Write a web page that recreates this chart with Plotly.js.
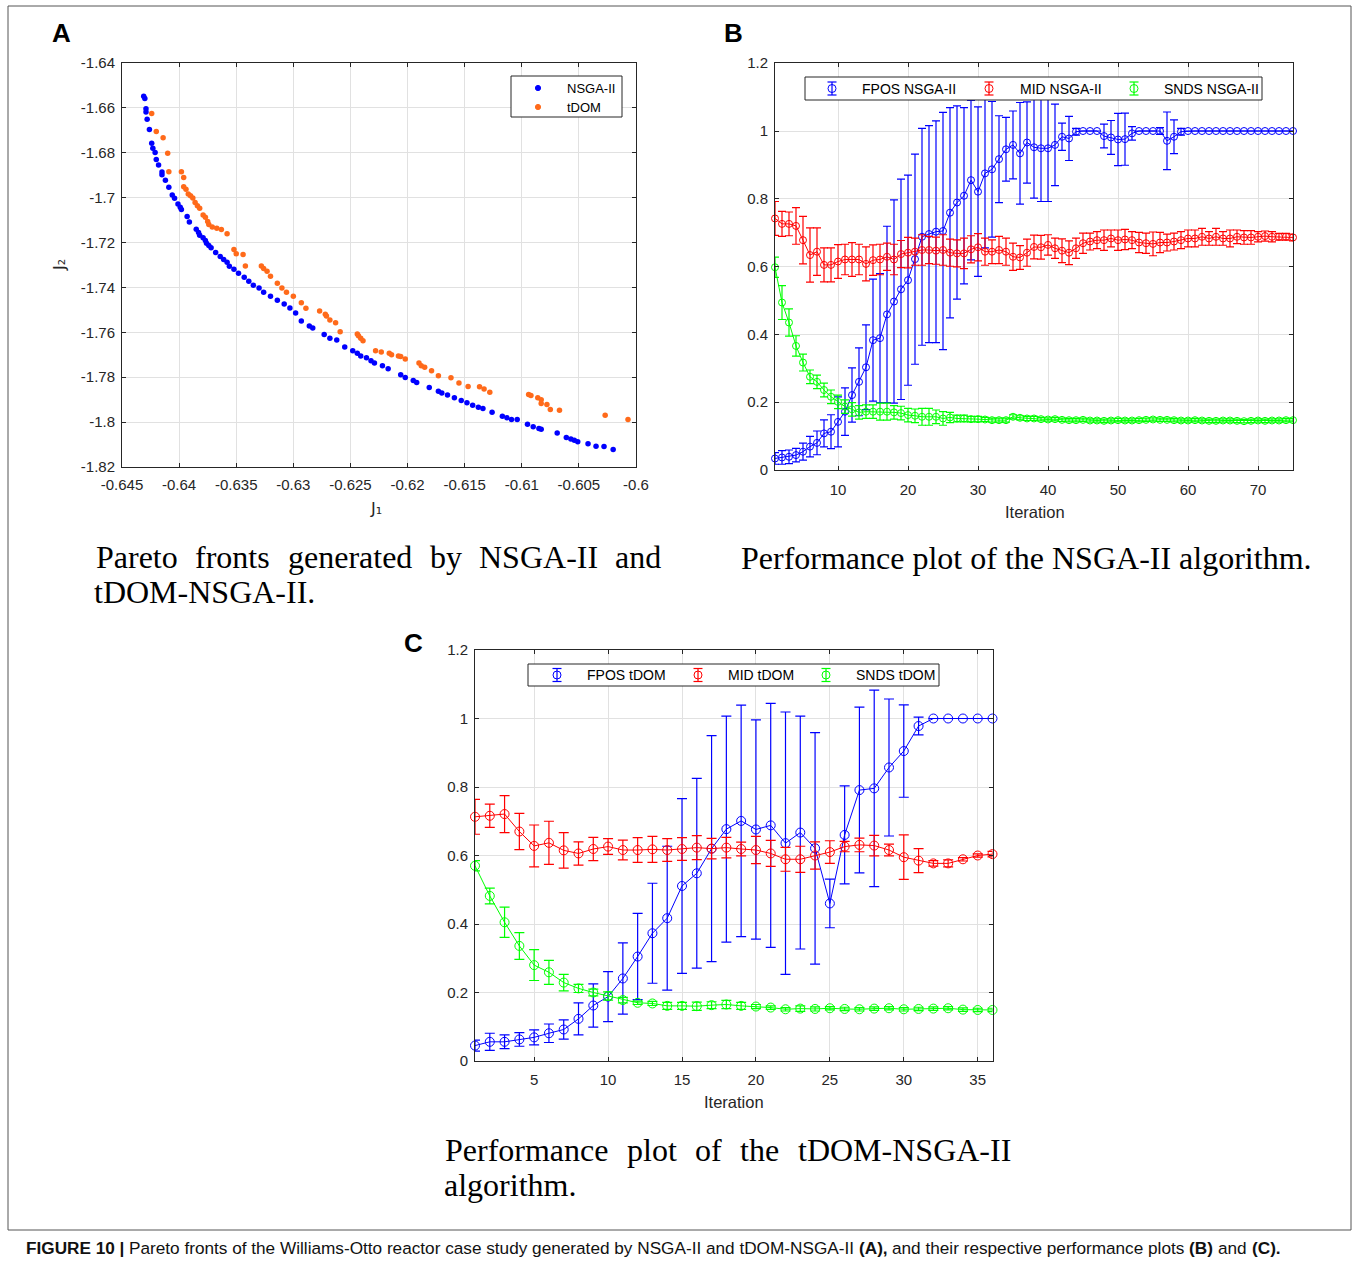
<!DOCTYPE html>
<html><head><meta charset="utf-8">
<script src="https://cdn.plot.ly/plotly-3.0.1.min.js"></script>
<style>html,body{margin:0;padding:0;background:#fff}#chart{width:1354px;height:1263px}</style>
</head><body><div id="chart"></div>
<script>
// ---------- Panel A: Pareto fronts ----------
const nsgaJ1 = [-0.6431,-0.6430,-0.6429,-0.6429,-0.6428,-0.6426,-0.6424,-0.6423,-0.6421,-0.6420,-0.6418,-0.6415,-0.6415,-0.6412,-0.6409,-0.6406,-0.6404,-0.6401,-0.6399,-0.6398,-0.6393,-0.6391,-0.6385,-0.6383,-0.6382,-0.6379,-0.6377,-0.6376,-0.6374,-0.6372,-0.6368,-0.6364,-0.6361,-0.6358,-0.6356,
 -0.6352,-0.6348,-0.6343,-0.6339,-0.6335,-0.6330,-0.6326,-0.6320,-0.6314,-0.6308,-0.6303,-0.6298,
 -0.6293,-0.6286,-0.6283,-0.6273,-0.6268,-0.6262,-0.6255,-0.6248,-0.6244,-0.6241,-0.6236,-0.6232,-0.6229,-0.6222,-0.6217,-0.6206,-0.6202,-0.6195,-0.6192,-0.6181,-0.6173,-0.6170,-0.6165,-0.6159,-0.6153,-0.6148,-0.6143,-0.6138,-0.6134,-0.6126,-0.6117,-0.6113,-0.6109,-0.6104,-0.6095,-0.6090,-0.6085,-0.6083,-0.6069,-0.6061,-0.6057,-0.6054,-0.6051,-0.6042,-0.6035,-0.6028,-0.6020];
const nsgaJ2 = [-1.6548,-1.6558,-1.6604,-1.6618,-1.6651,-1.6696,-1.6758,-1.6780,-1.6799,-1.6830,-1.6855,-1.6886,-1.6898,-1.6922,-1.6954,-1.6988,-1.7003,-1.7028,-1.7043,-1.7053,-1.7084,-1.7108,-1.7141,-1.7155,-1.7167,-1.7179,-1.7191,-1.7203,-1.7213,-1.7223,-1.7244,-1.7262,-1.7276,-1.7288,-1.7306,
 -1.7319,-1.7337,-1.7355,-1.7372,-1.7390,-1.7403,-1.7421,-1.7439,-1.7457,-1.7474,-1.7492,-1.7514,
 -1.7550,-1.7572,-1.7581,-1.7610,-1.7626,-1.7634,-1.7665,-1.7682,-1.7693,-1.7705,-1.7713,-1.7727,-1.7737,-1.7749,-1.7762,-1.7789,-1.7801,-1.7815,-1.7823,-1.7846,-1.7863,-1.7870,-1.7879,-1.7892,-1.7904,-1.7914,-1.7925,-1.7934,-1.7939,-1.7956,-1.7974,-1.7981,-1.7988,-1.7988,-1.8010,-1.8021,-1.8028,-1.8032,-1.8049,-1.8069,-1.8075,-1.8081,-1.8087,-1.8096,-1.8108,-1.8109,-1.8122];
const tdomJ1 = [-0.6424,-0.6420,-0.6414,-0.6410,-0.6409,-0.6398,-0.6396,-0.6396,-0.6394,-0.6392,-0.6390,-0.6388,-0.6386,-0.6384,-0.6382,-0.6379,-0.6377,-0.6375,-0.6374,-0.6371,-0.6367,-0.6363,-0.6358,-0.6352,-0.6350,-0.6344,-0.6342,-0.6328,-0.6326,
 -0.6323,-0.6320,-0.6314,-0.6310,-0.6306,-0.6300,
 -0.6293,-0.6289,-0.6277,-0.6272,-0.6271,-0.6268,-0.6263,-0.6259,-0.6244,-0.6243,-0.6241,-0.6239,-0.6228,-0.6223,-0.6216,-0.6214,-0.6208,-0.6206,-0.6202,-0.6190,-0.6188,-0.6185,-0.6179,-0.6173,-0.6162,-0.6155,-0.6147,-0.6137,-0.6133,-0.6128,-0.6094,-0.6092,-0.6086,-0.6083,-0.6083,-0.6078,-0.6075,-0.6067,-0.6027,-0.6007];
const tdomJ2 = [-1.6625,-1.6705,-1.6733,-1.6802,-1.6884,-1.6884,-1.6910,-1.6951,-1.6962,-1.6984,-1.6991,-1.7001,-1.7021,-1.7036,-1.7047,-1.7077,-1.7087,-1.7106,-1.7120,-1.7131,-1.7136,-1.7142,-1.7161,-1.7231,-1.7250,-1.7253,-1.7305,-1.7305,-1.7316,
 -1.7328,-1.7350,-1.7381,-1.7403,-1.7421,-1.7439,
 -1.7468,-1.7493,-1.7505,-1.7519,-1.7527,-1.7545,-1.7557,-1.7597,-1.7607,-1.7615,-1.7626,-1.7637,-1.7682,-1.7688,-1.7693,-1.7700,-1.7705,-1.7708,-1.7719,-1.7737,-1.7749,-1.7756,-1.7771,-1.7793,-1.7802,-1.7826,-1.7841,-1.7842,-1.7852,-1.7867,-1.7877,-1.7881,-1.7892,-1.7900,-1.7917,-1.7922,-1.7944,-1.7947,-1.7969,-1.7988];
const j1TickVals = [-0.645,-0.64,-0.635,-0.63,-0.625,-0.62,-0.615,-0.61,-0.605,-0.6];
const j1TickText = ['-0.645','-0.64','-0.635','-0.63','-0.625','-0.62','-0.615','-0.61','-0.605','-0.6'];
const j2TickVals = [-1.82,-1.8,-1.78,-1.76,-1.74,-1.72,-1.7,-1.68,-1.66,-1.64];
const j2TickText = ['-1.82','-1.8','-1.78','-1.76','-1.74','-1.72','-1.7','-1.68','-1.66','-1.64'];

// ---------- Panel B: NSGA-II performance (75 iterations) ----------
const iterB = [1,2,3,4,5,6,7,8,9,10,11,12,13,14,15,16,17,18,19,20,21,22,23,24,25,26,27,28,29,30,31,32,33,34,35,36,37,38,39,40,41,42,43,44,45,46,47,48,49,50,51,52,53,54,55,56,57,58,59,60,61,62,63,64,65,66,67,68,69,70,71,72,73,74,75];
const fposNsga = [0.034,0.037,0.039,0.044,0.054,0.069,0.080,0.108,0.113,0.142,
 0.172,0.221,0.260,0.303,0.383,0.389,0.459,0.497,0.533,0.560,
 0.622,0.688,0.696,0.703,0.705,0.759,0.789,0.809,0.855,0.821,
 0.875,0.887,0.917,0.946,0.959,0.934,0.966,0.952,0.949,0.949,
 0.959,0.983,0.978,0.998,1.0,1.0,1.0,0.985,0.981,0.975,
 0.976,0.993,1.0,1.0,1.0,1.0,0.971,0.983,0.998,1.0,
 1,1,1,1,1,1,1,1,1,1,1,1,1,1,1];
const fposNsgaErr = [0.017,0.02,0.02,0.02,0.025,0.03,0.035,0.04,0.05,0.074,
 0.07,0.08,0.1,0.125,0.18,0.19,0.26,0.3,0.325,0.31,
 0.31,0.32,0.32,0.327,0.35,0.31,0.285,0.26,0.235,0.25,
 0.22,0.2,0.128,0.094,0.1,0.15,0.12,0.15,0.157,0.157,
 0.12,0.04,0.065,0.01,0,0,0,0.035,0.05,0.077,
 0.077,0.02,0,0,0,0.01,0.085,0.05,0.01,0,
 0,0,0,0,0,0,0,0,0,0,0,0,0,0,0];
const midNsga = [0.742,0.726,0.726,0.720,0.678,0.634,0.644,0.605,0.605,0.615,
 0.621,0.621,0.621,0.608,0.619,0.621,0.629,0.621,0.637,0.641,
 0.644,0.649,0.649,0.647,0.649,0.641,0.639,0.639,0.651,0.657,
 0.644,0.644,0.649,0.644,0.629,0.627,0.641,0.658,
 0.657,0.664,0.654,0.647,0.641,0.654,0.669,0.674,0.678,0.678,
 0.683,0.678,0.680,0.678,0.671,0.669,0.667,0.671,0.671,0.674,
 0.678,0.683,0.683,0.688,0.683,0.688,0.683,0.683,0.688,0.686,
 0.686,0.688,0.690,0.688,0.688,0.688,0.686];
const midNsgaErr = [0.05,0.037,0.035,0.054,0.07,0.08,0.07,0.05,0.05,0.05,
 0.045,0.05,0.045,0.05,0.045,0.045,0.04,0.045,0.04,0.045,
 0.04,0.045,0.04,0.04,0.045,0.04,0.04,0.045,0.04,0.04,
 0.04,0.035,0.04,0.04,0.04,0.035,0.04,0.035,0.035,0.03,
 0.03,0.035,0.035,0.03,0.03,0.025,0.025,0.03,0.025,0.03,
 0.03,0.025,0.03,0.03,0.035,0.03,0.025,0.025,0.025,0.025,
 0.025,0.025,0.02,0.025,0.02,0.025,0.02,0.02,0.02,0.015,
 0.015,0.015,0.01,0.01,0.01];
const sndsNsga = [0.598,0.494,0.435,0.366,0.317,0.275,0.260,0.236,0.216,0.201,
 0.187,0.179,0.170,0.172,0.172,0.172,0.172,0.170,0.168,0.162,
 0.160,0.157,0.157,0.157,0.152,0.155,0.152,0.152,0.150,0.150,
 0.149,0.147,0.147,0.147,0.157,0.154,0.152,0.152,
 0.150,0.149,0.150,0.148,0.147,0.147,0.148,0.146,0.146,0.145,
 0.146,0.147,0.146,0.146,0.147,0.148,0.149,0.148,0.148,0.147,
 0.146,0.146,0.147,0.146,0.145,0.145,0.146,0.146,0.145,0.144,
 0.145,0.146,0.145,0.146,0.146,0.147,0.147];
const sndsNsgaErr = [0.03,0.05,0.04,0.03,0.025,0.02,0.02,0.02,0.02,0.02,
 0.02,0.02,0.02,0.02,0.02,0.025,0.025,0.02,0.02,0.02,
 0.02,0.025,0.025,0.02,0.02,0.015,0.01,0.01,0.008,0.008,
 0.006,0.006,0.006,0.006,0.006,0.006,0.006,0.006,
 0.005,0.005,0.005,0.005,0.005,0.005,0.005,0.005,0.005,0.005,
 0.005,0.005,0.005,0.005,0.005,0.005,0.005,0.005,0.005,0.005,
 0.005,0.005,0.005,0.005,0.005,0.005,0.005,0.005,0.005,0.005,
 0.005,0.005,0.005,0.005,0.005,0.005,0.005];

// ---------- Panel C: tDOM-NSGA-II performance (36 iterations) ----------
const iterC = [1,2,3,4,5,6,7,8,9,10,11,12,13,14,15,16,17,18,19,20,21,22,23,24,25,26,27,28,29,30,31,32,33,34,35,36];
const fposTdom = [0.045,0.056,0.056,0.063,0.069,0.081,0.092,0.123,0.162,0.188,
 0.241,0.305,0.373,0.417,0.511,0.548,0.620,0.677,0.701,0.676,
 0.688,0.636,0.667,0.621,0.460,0.660,0.791,0.796,0.857,0.905,
 0.978,1.0,1.0,1.0,1.0,1.0];
const fposTdomErr = [0.016,0.025,0.02,0.02,0.022,0.027,0.028,0.047,0.063,0.073,
 0.104,0.126,0.146,0.21,0.255,0.277,0.33,0.33,0.338,0.32,
 0.356,0.383,0.34,0.338,0.071,0.143,0.242,0.287,0.2,0.135,
 0.026,0,0,0,0,0];
const midTdom = [0.713,0.716,0.721,0.670,0.628,0.637,0.615,0.606,0.619,0.626,
 0.616,0.616,0.618,0.616,0.619,0.623,0.620,0.623,0.619,0.616,
 0.606,0.589,0.589,0.600,0.610,0.626,0.631,0.629,0.616,0.595,
 0.585,0.577,0.577,0.589,0.600,0.604];
const midTdomErr = [0.051,0.034,0.054,0.053,0.061,0.063,0.052,0.034,0.034,0.023,
 0.029,0.036,0.038,0.033,0.033,0.035,0.03,0.03,0.02,0.04,
 0.038,0.035,0.038,0.04,0.033,0.015,0.02,0.03,0.017,0.065,
 0.035,0.008,0.01,0.005,0.005,0.008];
const sndsTdom = [0.570,0.482,0.405,0.336,0.280,0.259,0.229,0.212,0.200,0.190,
 0.178,0.170,0.168,0.161,0.161,0.160,0.163,0.165,0.161,0.159,
 0.156,0.151,0.153,0.152,0.154,0.152,0.151,0.153,0.154,0.151,
 0.152,0.153,0.154,0.150,0.149,0.149];
const sndsTdomErr = [0.015,0.023,0.044,0.039,0.045,0.035,0.024,0.012,0.01,0.012,
 0.008,0.005,0.006,0.01,0.01,0.012,0.01,0.012,0.01,0.006,
 0.005,0.005,0.008,0.006,0.005,0.005,0.005,0.005,0.005,0.005,
 0.005,0.005,0.005,0.005,0.005,0.005];

const perfTickValsB = [10,20,30,40,50,60,70];
const perfTickValsC = [5,10,15,20,25,30,35];
const perfYTickVals = [0,0.2,0.4,0.6,0.8,1,1.2];
const perfYTickText = ['0','0.2','0.4','0.6','0.8','1','1.2'];

const legendA = ['NSGA-II','tDOM'];
const legendB = ['FPOS NSGA-II','MID NSGA-II','SNDS NSGA-II'];
const legendC = ['FPOS tDOM','MID tDOM','SNDS tDOM'];

// ---------- styling ----------
const W = 1354, H = 1263;
const px = x => x / W;
const py = y => 1 - y / H;
const BLUE = '#0000FF', RED = '#FF0000', GREEN = '#00FF00', ORANGE = '#FF6A1A';
const AX = '#262626';
const SANS = 'Liberation Sans, Arial, sans-serif';
const SERIF = 'Liberation Serif, Times New Roman, serif';

function perfTrace(x, y, err, color, xa, ya, msize, capw) {
  return {
    x: x, y: y, type: 'scatter', mode: 'lines+markers', xaxis: xa, yaxis: ya,
    showlegend: false, cliponaxis: false,
    line: {color: color, width: 1},
    marker: {symbol: 'circle-open', size: msize, color: color, line: {width: 1, color: color}},
    error_y: {type: 'data', array: err, visible: true, color: color, thickness: 1.2, width: capw}
  };
}

const traces = [
  {x: nsgaJ1, y: nsgaJ2, type: 'scatter', mode: 'markers', xaxis: 'x', yaxis: 'y', showlegend: false, cliponaxis: false,
   marker: {color: BLUE, size: 5.5}},
  {x: tdomJ1, y: tdomJ2, type: 'scatter', mode: 'markers', xaxis: 'x', yaxis: 'y', showlegend: false, cliponaxis: false,
   marker: {color: ORANGE, size: 5.5}},
  perfTrace(iterB, fposNsga, fposNsgaErr, BLUE, 'x2', 'y2', 7, 4),
  perfTrace(iterB, midNsga, midNsgaErr, RED, 'x2', 'y2', 7, 4),
  perfTrace(iterB, sndsNsga, sndsNsgaErr, GREEN, 'x2', 'y2', 7, 4),
  perfTrace(iterC, fposTdom, fposTdomErr, BLUE, 'x3', 'y3', 9, 5),
  perfTrace(iterC, midTdom, midTdomErr, RED, 'x3', 'y3', 9, 5),
  perfTrace(iterC, sndsTdom, sndsTdomErr, GREEN, 'x3', 'y3', 9, 5)
];

const axBase = {
  showline: true, linecolor: AX, linewidth: 1, mirror: 'allticks',
  ticks: 'inside', ticklen: 4, tickcolor: AX, tickwidth: 1,
  showgrid: true, gridcolor: '#e1e1e1', gridwidth: 1, zeroline: false,
  tickfont: {family: SANS, size: 15, color: AX}, fixedrange: true, tickmode: 'array'
};

const shapes = [];
const annotations = [];
function line(x0, y0, x1, y1, color, w) {
  shapes.push({type: 'line', xref: 'paper', yref: 'paper', x0: px(x0), y0: py(y0), x1: px(x1), y1: py(y1),
    line: {color: color, width: w || 1}, layer: 'above'});
}
function rect(x0, y0, x1, y1, color, fill) {
  shapes.push({type: 'rect', xref: 'paper', yref: 'paper', x0: px(x0), y0: py(y0), x1: px(x1), y1: py(y1),
    line: {color: color, width: 1}, fillcolor: fill || 'rgba(0,0,0,0)', layer: 'above'});
}
function circ(cx, cy, r, color, filled) {
  shapes.push({type: 'circle', xref: 'paper', yref: 'paper', x0: px(cx - r), y0: py(cy + r), x1: px(cx + r), y1: py(cy - r),
    line: {color: color, width: 1}, fillcolor: filled ? color : 'rgba(0,0,0,0)', layer: 'above'});
}
function text(t, x, y, opts) {
  opts = opts || {};
  annotations.push(Object.assign({
    text: t, xref: 'paper', yref: 'paper', x: px(x), y: py(y), showarrow: false,
    xanchor: opts.xanchor || 'center', yanchor: opts.yanchor || 'middle',
    font: {family: opts.family || SANS, size: opts.size || 14, color: opts.color || '#000', weight: opts.weight || 'normal'}
  }, opts.extra || {}));
}

// figure frame
rect(8, 6, 1351, 1230, '#555555');

// legend A
rect(511, 76, 622, 117, AX, '#ffffff');
circ(538, 88, 2.6, BLUE, true);
circ(538, 107, 2.6, ORANGE, true);
text(legendA[0], 565, 88, {xanchor: 'left', size: 13});
text(legendA[1], 565, 107, {xanchor: 'left', size: 13});

// legend B and C (error-bar glyphs)
function ebGlyph(cx, cy, color, half, capw, r) {
  line(cx, cy - half, cx, cy + half, color, 1.2);
  line(cx - capw, cy - half, cx + capw, cy - half, color, 1.2);
  line(cx - capw, cy + half, cx + capw, cy + half, color, 1.2);
  circ(cx, cy, r, color, false);
}
rect(805, 77, 1262, 100, AX, '#ffffff');
const cyB = 88.5;
ebGlyph(832, cyB, BLUE, 6.5, 4.5, 4); text(legendB[0], 860, cyB, {xanchor: 'left', size: 14});
ebGlyph(989, cyB, RED, 6.5, 4.5, 4); text(legendB[1], 1018, cyB, {xanchor: 'left', size: 14});
ebGlyph(1134, cyB, GREEN, 6.5, 4.5, 4); text(legendB[2], 1162, cyB, {xanchor: 'left', size: 14});

rect(528, 664, 939, 686, AX, '#ffffff');
const cyC = 675;
ebGlyph(557, cyC, BLUE, 6.5, 4.5, 4); text(legendC[0], 585, cyC, {xanchor: 'left', size: 14});
ebGlyph(698, cyC, RED, 6.5, 4.5, 4); text(legendC[1], 726, cyC, {xanchor: 'left', size: 14});
ebGlyph(826, cyC, GREEN, 6.5, 4.5, 4); text(legendC[2], 854, cyC, {xanchor: 'left', size: 14});

// axis titles (unicode subscripts)
text('J\u2081', 376, 509, {size: 16, color: AX, family: 'DejaVu Sans, Liberation Sans, sans-serif'});
text('J\u2082', 60, 265, {size: 16, color: AX, family: 'DejaVu Sans, Liberation Sans, sans-serif', extra: {textangle: -90}});
text('Iteration', 1035, 512, {size: 16.5, color: AX});
text('Iteration', 734, 1102, {size: 16.5, color: AX});

// panel letters
text('A', 61, 33, {size: 26, weight: 'bold'});
text('B', 734, 33, {size: 26, weight: 'bold'});
text('C', 413, 643, {size: 26, weight: 'bold'});

// sub-captions (justified lines placed word by word)
const capA1 = ['Pareto', 'fronts', 'generated', 'by', 'NSGA-II', 'and'];
const capA1x = [94, 193.4, 285.7, 427.7, 477.3, 613];
capA1.forEach((w, i) => text(w, capA1x[i], 557, {xanchor: 'left', size: 32, family: SERIF}));
text('tDOM-NSGA-II.', 92, 592, {xanchor: 'left', size: 32, family: SERIF});
text('Performance plot of the NSGA-II algorithm.', 739, 558, {xanchor: 'left', size: 32, family: SERIF});
const capC1 = ['Performance', 'plot', 'of', 'the', 'tDOM-NSGA-II'];
const capC1x = [443, 625, 693, 738, 796];
capC1.forEach((w, i) => text(w, capC1x[i], 1150, {xanchor: 'left', size: 32, family: SERIF}));
text('algorithm.', 442, 1185, {xanchor: 'left', size: 32, family: SERIF});

// figure caption: bold and regular segments laid out with measured widths
const captionParts = [
  ['FIGURE 10 |', 'bold'],
  ['Pareto fronts of the Williams-Otto reactor case study generated by NSGA-II and tDOM-NSGA-II', 'normal'],
  ['(A),', 'bold'],
  ['and their respective performance plots', 'normal'],
  ['(B)', 'bold'], ['and', 'normal'], ['(C).', 'bold']
];
const captionGapBefore = [0, 1, 1, 1, 1, 1, 1];
(function () {
  const fs = 17.2;
  const cv = document.createElement('canvas').getContext('2d');
  let x = 24;
  cv.font = 'normal ' + fs + 'px "Liberation Sans"';
  const sp = cv.measureText(' ').width;
  captionParts.forEach((p, i) => {
    x += captionGapBefore[i] * sp;
    cv.font = p[1] + ' ' + fs + 'px "Liberation Sans"';
    text(p[0], x, 1248, {xanchor: 'left', size: fs, weight: p[1], color: '#111'});
    x += cv.measureText(p[0]).width;
  });
})();

const layout = {
  width: W, height: H, margin: {l: 0, r: 0, t: 0, b: 0},
  paper_bgcolor: '#ffffff', plot_bgcolor: '#ffffff', showlegend: false,
  xaxis: Object.assign({}, axBase, {domain: [px(122), px(636)], range: [-0.645, -0.6], tickvals: j1TickVals, ticktext: j1TickText, anchor: 'y', ticklabelstandoff: 4}),
  yaxis: Object.assign({}, axBase, {domain: [py(467), py(63)], range: [-1.82, -1.64], tickvals: j2TickVals, ticktext: j2TickText, anchor: 'x', ticklabelstandoff: 3}),
  xaxis2: Object.assign({}, axBase, {domain: [px(775), px(1293)], range: [1, 75], tickvals: perfTickValsB, ticktext: perfTickValsB.map(String), anchor: 'y2', ticklabelstandoff: 6}),
  yaxis2: Object.assign({}, axBase, {domain: [py(470), py(63.2)], range: [0, 1.2], tickvals: perfYTickVals, ticktext: perfYTickText, anchor: 'x2', ticklabelstandoff: 3}),
  xaxis3: Object.assign({}, axBase, {domain: [px(475), px(992.5)], range: [1, 36], tickvals: perfTickValsC, ticktext: perfTickValsC.map(String), anchor: 'y3', ticklabelstandoff: 5}),
  yaxis3: Object.assign({}, axBase, {domain: [py(1061), py(650)], range: [0, 1.2], tickvals: perfYTickVals, ticktext: perfYTickText, anchor: 'x3', ticklabelstandoff: 3}),
  shapes: shapes,
  annotations: annotations
};

Plotly.newPlot('chart', traces, layout, {displayModeBar: false, staticPlot: true});
</script></body></html>
